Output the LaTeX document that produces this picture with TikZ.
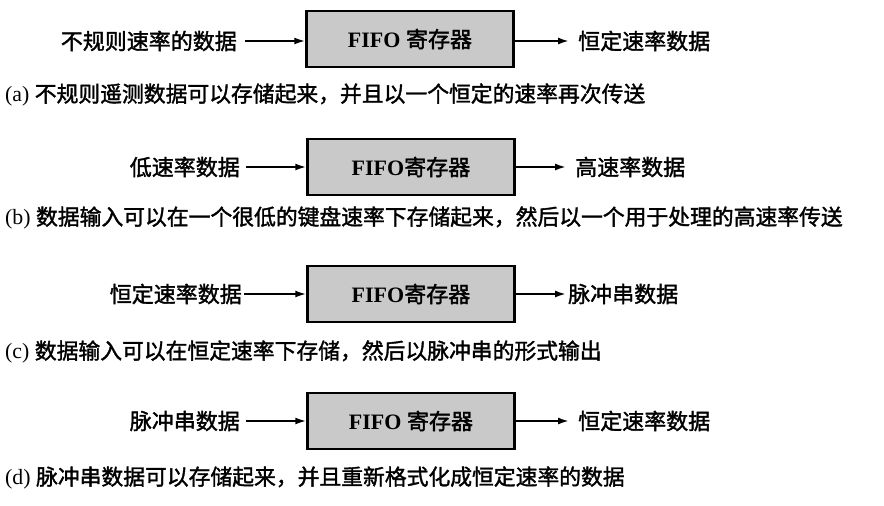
\documentclass[tikz,border=0pt]{standalone}
\usepackage{fontspec}
\setmainfont{Liberation Serif}
\newfontfamily\cjk[FakeBold=1.6]{Noto Sans CJK SC}
\usetikzlibrary{arrows.meta}
\tikzset{
  fifo/.style={draw, line width=2.4pt, fill=gray!42, minimum width=207pt, minimum height=56pt, inner sep=0pt,
    font=\fontsize{22}{22}\selectfont},
  lbl/.style={inner sep=0pt, font=\fontsize{22}{22}\selectfont\cjk},
  captext/.style={anchor=west, inner sep=0pt, font=\fontsize{21.8}{22}\selectfont},
  arr/.style={-{Latex[length=11pt,width=7pt]}, line width=1.9pt},
}
\begin{document}
\begin{tikzpicture}[x=1pt,y=-1pt]
\useasboundingbox (0,0) rectangle (884,506);
% row a
\node[fifo] (fa) at (410,39) {\textbf{FIFO} {\cjk 寄存器}};
\node[lbl, anchor=east] (la) at (237,41) {不规则速率的数据};
\node[lbl, anchor=west] (ra) at (578,41) {恒定速率数据};
\draw[arr, shorten <=8pt] (la.east) -- (la.east -| fa.west);
\draw[arr, shorten >=9pt] (ra.west -| fa.east) -- (ra.west);
\node[captext] (ca) at (5,95) {(a) {\cjk 不规则遥测数据可以存储起来，并且以一个恒定的速率再次传送}};
% row b
\node[fifo] (fb) at (411,167) {\textbf{FIFO}{\cjk 寄存器}};
\node[lbl, anchor=east] (lb) at (240,167) {低速率数据};
\node[lbl, anchor=west] (rb) at (575,167) {高速率数据};
\draw[arr, shorten <=6pt] (lb.east) -- (lb.east -| fb.west);
\draw[arr, shorten >=9pt] (rb.west -| fb.east) -- (rb.west);
\node[captext] (cb) at (5,218) {(b) {\cjk 数据输入可以在一个很低的键盘速率下存储起来，然后以一个用于处理的高速率传送}};
% row c
\node[fifo] (fc) at (411,294) {\textbf{FIFO}{\cjk 寄存器}};
\node[lbl, anchor=east] (lc) at (242,294) {恒定速率数据};
\node[lbl, anchor=west] (rc) at (568,294) {脉冲串数据};
\draw[arr, shorten <=2pt] (lc.east) -- (lc.east -| fc.west);
\draw[arr, shorten >=2pt] (rc.west -| fc.east) -- (rc.west);
\node[captext] (cc) at (5,352) {(c) {\cjk 数据输入可以在恒定速率下存储，然后以脉冲串的形式输出}};
% row d
\node[fifo] (fd) at (411,421) {\textbf{FIFO} {\cjk 寄存器}};
\node[lbl, anchor=east] (ld) at (240,421) {脉冲串数据};
\node[lbl, anchor=west] (rd) at (578,421) {恒定速率数据};
\draw[arr, shorten <=6pt] (ld.east) -- (ld.east -| fd.west);
\draw[arr, shorten >=9pt] (rd.west -| fd.east) -- (rd.west);
\node[captext] (cd) at (5,478) {(d) {\cjk 脉冲串数据可以存储起来，并且重新格式化成恒定速率的数据}};
\end{tikzpicture}
\end{document}
